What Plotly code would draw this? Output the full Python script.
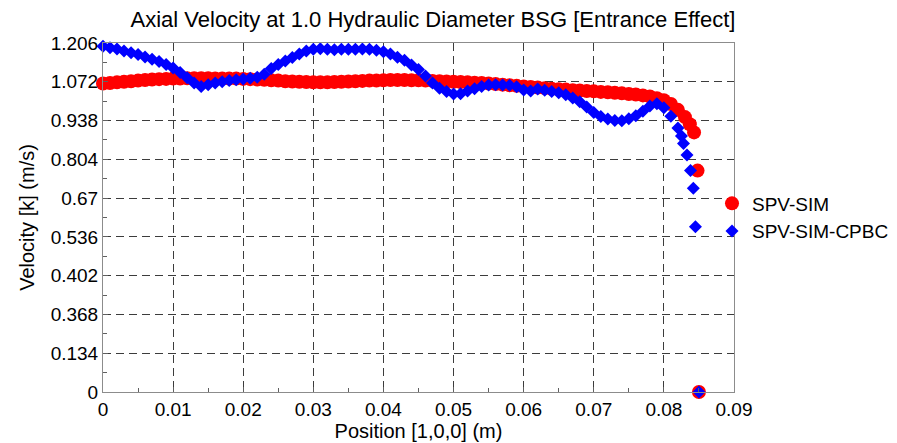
import plotly.graph_objects as go

# ---- data ----
pos_sim = [0.000, 0.001, 0.002, 0.003, 0.004, 0.005, 0.006, 0.007, 0.008, 0.009,
           0.010, 0.011, 0.012, 0.013, 0.014, 0.015, 0.016, 0.017, 0.018, 0.019,
           0.020, 0.021, 0.022, 0.023, 0.024, 0.025, 0.026, 0.027, 0.028, 0.029,
           0.030, 0.031, 0.032, 0.033, 0.034, 0.035, 0.036, 0.037, 0.038, 0.039,
           0.040, 0.041, 0.042, 0.043, 0.044, 0.045, 0.046, 0.047, 0.048, 0.049,
           0.050, 0.051, 0.052, 0.053, 0.054, 0.055, 0.056, 0.057, 0.058, 0.059,
           0.060, 0.061, 0.062, 0.063, 0.064, 0.065, 0.066, 0.067, 0.068, 0.069,
           0.070, 0.071, 0.072, 0.073, 0.074, 0.075, 0.076, 0.077, 0.078, 0.079,
           0.080, 0.081, 0.082, 0.083, 0.0837, 0.0843, 0.0848, 0.0850]
vel_sim = [1.066, 1.068, 1.070, 1.072, 1.074, 1.076, 1.078, 1.080, 1.081, 1.082,
           1.083, 1.083, 1.084, 1.084, 1.084, 1.084, 1.083, 1.083, 1.083, 1.083,
           1.082, 1.081, 1.080, 1.079, 1.077, 1.076, 1.074, 1.073, 1.072, 1.071,
           1.070, 1.070, 1.070, 1.071, 1.072, 1.073, 1.074, 1.075, 1.076, 1.076,
           1.077, 1.078, 1.078, 1.078, 1.077, 1.077, 1.076, 1.075, 1.074, 1.073,
           1.072, 1.071, 1.070, 1.069, 1.068, 1.066, 1.064, 1.062, 1.060, 1.058,
           1.056, 1.054, 1.052, 1.050, 1.048, 1.046, 1.045, 1.043, 1.042, 1.040,
           1.039, 1.037, 1.036, 1.034, 1.032, 1.030, 1.028, 1.025, 1.021, 1.015,
           1.008, 0.995, 0.975, 0.950, 0.925, 0.897, 0.765, 0.0]

pos_cpbc = [0.000, 0.001, 0.002, 0.003, 0.004, 0.005, 0.006, 0.007, 0.008, 0.009,
            0.010, 0.011, 0.012, 0.013, 0.014, 0.015, 0.016, 0.017, 0.018, 0.019,
            0.020, 0.021, 0.022, 0.023, 0.024, 0.025, 0.026, 0.027, 0.028, 0.029,
            0.030, 0.031, 0.032, 0.033, 0.034, 0.035, 0.036, 0.037, 0.038, 0.039,
            0.040, 0.041, 0.042, 0.043, 0.044, 0.045, 0.046, 0.047, 0.048, 0.049,
            0.050, 0.051, 0.052, 0.053, 0.054, 0.055, 0.056, 0.057, 0.058, 0.059,
            0.060, 0.061, 0.062, 0.063, 0.064, 0.065, 0.066, 0.067, 0.068, 0.069,
            0.070, 0.071, 0.072, 0.073, 0.074, 0.075, 0.076, 0.077, 0.078, 0.079,
            0.080, 0.081, 0.082, 0.0825, 0.0828, 0.0833, 0.0838, 0.0842, 0.0845, 0.0850]
vel_cpbc = [1.195, 1.190, 1.185, 1.178, 1.172, 1.166, 1.158, 1.150, 1.142, 1.132,
            1.120, 1.104, 1.086, 1.068, 1.056, 1.062, 1.068, 1.072, 1.076, 1.079,
            1.082, 1.084, 1.088, 1.098, 1.118, 1.132, 1.144, 1.156, 1.168, 1.178,
            1.184, 1.186, 1.184, 1.183, 1.184, 1.184, 1.184, 1.185, 1.184, 1.181,
            1.176, 1.168, 1.157, 1.146, 1.130, 1.114, 1.092, 1.068, 1.050, 1.038,
            1.030, 1.031, 1.040, 1.048, 1.056, 1.061, 1.062, 1.061, 1.060, 1.055,
            1.044, 1.040, 1.047, 1.043, 1.038, 1.034, 1.027, 1.016, 1.003, 0.985,
            0.966, 0.952, 0.943, 0.938, 0.937, 0.944, 0.955, 0.970, 0.988, 0.996,
            0.982, 0.953, 0.912, 0.885, 0.859, 0.819, 0.765, 0.704, 0.571, 0.0]

y_tick_vals = [0, 0.134, 0.268, 0.402, 0.536, 0.67, 0.804, 0.938, 1.072, 1.206]
y_tick_text = ["0", "0.134", "0.368", "0.402", "0.536", "0.67", "0.804", "0.938", "1.072", "1.206"]
x_tick_vals = [0, 0.01, 0.02, 0.03, 0.04, 0.05, 0.06, 0.07, 0.08, 0.09]
x_tick_text = ["0", "0.01", "0.02", "0.03", "0.04", "0.05", "0.06", "0.07", "0.08", "0.09"]

FONT = "Liberation Sans, Arial, sans-serif"

# The page body adds an 8px offset, so the figure is sized/positioned to compensate.
W, H = 889, 435

fig = go.Figure()
fig.add_trace(go.Scatter(
    x=pos_sim, y=vel_sim, mode="markers", name="SPV-SIM",
    marker=dict(symbol="circle", size=14, color="#ff0000", line=dict(width=0)),
    cliponaxis=False,
))
fig.add_trace(go.Scatter(
    x=pos_cpbc, y=vel_cpbc, mode="markers", name="SPV-SIM-CPBC",
    marker=dict(symbol="diamond", size=10, color="#0000ff", line=dict(width=0)),
    cliponaxis=False,
))

axis_common = dict(
    showline=True, linecolor="#8c8c8c", linewidth=1, mirror=True,
    showgrid=True, gridcolor="#3c3c3c", gridwidth=1, griddash="8px,5px",
    zeroline=False, ticks="inside", ticklen=5, tickcolor="#606060",
    tickfont=dict(family=FONT, size=19, color="#000000"),
    automargin=False,
)

fig.update_xaxes(
    range=[0, 0.09], tickmode="array", tickvals=x_tick_vals, ticktext=x_tick_text,
    title=dict(text="Position [1,0,0] (m)", font=dict(family=FONT, size=20, color="#000000"), standoff=4),
    minor=dict(dtick=0.005, tick0=0, ticks="inside", ticklen=4, tickcolor="#606060", showgrid=False),
    **axis_common,
)
fig.update_yaxes(
    range=[0, 1.206], tickmode="array", tickvals=y_tick_vals, ticktext=y_tick_text,
    title=dict(text="Velocity [k] (m/s)", font=dict(family=FONT, size=20, color="#000000"), standoff=10),
    minor=dict(dtick=0.067, tick0=0, ticks="inside", ticklen=4, tickcolor="#606060", showgrid=False),
    **axis_common,
)

fig.update_layout(
    width=W, height=H,
    margin=dict(l=95, r=163, t=35, b=51, autoexpand=False),
    paper_bgcolor="white", plot_bgcolor="white",
    font=dict(family=FONT, color="#000000"),
    title=dict(text="Axial Velocity at 1.0 Hydraulic Diameter BSG [Entrance Effect]",
               x=425 / W, xref="container", xanchor="center",
               y=1 - 11 / H, yref="container", yanchor="middle",
               font=dict(family=FONT, size=22, color="#000000"), automargin=False),
    legend=dict(x=1.0 - 22 / 631, xanchor="left", y=0.50, yanchor="middle",
                font=dict(family=FONT, size=19, color="#000000"),
                bgcolor="rgba(0,0,0,0)", itemwidth=30, tracegroupgap=0),
    showlegend=True,
)

fig.write_html("out.html")
